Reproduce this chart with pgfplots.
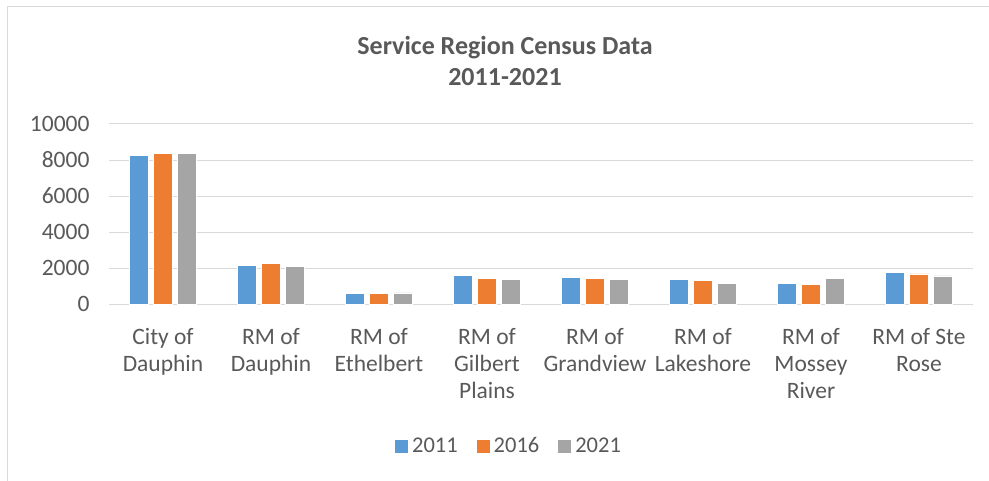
\documentclass[border=0pt]{standalone}
\usepackage{pgfplots}
\pgfplotsset{compat=1.18}
\usepackage{fontspec}
\setmainfont{Carlito}
\definecolor{cblue}{HTML}{5B9BD5}
\definecolor{corange}{HTML}{ED7D31}
\definecolor{cgray}{HTML}{A5A5A5}
\definecolor{ctext}{HTML}{595959}
\definecolor{cgrid}{HTML}{D9D9D9}
\begin{document}
\begin{tikzpicture}
\useasboundingbox (-109bp,-177bp) rectangle (880bp,304bp);
\draw[cgrid, line width=1bp] (-101bp,-200bp) -- (-101bp,297bp) -- (900bp,297bp);
\begin{axis}[
  at={(0,0)}, anchor=south west,
  scale only axis, width=864bp, height=180bp,
  xmin=-0.5, xmax=7.5, ymin=0, ymax=10000,
  ytick={0,2000,4000,6000,8000,10000},
  scaled y ticks=false,
  xtick={0,...,7},
  xticklabels={{City of\\Dauphin},{RM of\\Dauphin},{RM of\\Ethelbert},{RM of\\Gilbert\\Plains},{RM of\\Grandview},{RM of\\Lakeshore},{RM of\\Mossey\\River},{RM of Ste\\Rose}},
  xticklabel style={align=center, font=\fontsize{23.5bp}{27bp}\selectfont, text=ctext, anchor=north, yshift=-21bp},
  yticklabel style={font=\fontsize{23.5bp}{27bp}\selectfont, text=ctext, xshift=-16bp},
  /pgf/number format/assume math mode=true,
  /pgf/number format/1000 sep={},
  ymajorgrids, grid style={cgrid, line width=1bp},
  axis line style={draw=none},
  axis x line*=bottom,
  x axis line style={cgrid, line width=1bp},
  major tick length=0pt,
  ybar=5bp, bar width=19bp,
  legend columns=3,
  legend style={draw=none, fill=none, at={(0.463,-0.789)}, anchor=center, font=\fontsize{22.5bp}{27bp}\selectfont, text=ctext,
    /tikz/every odd column/.append style={column sep=2bp},
    /tikz/every even column/.append style={column sep=17bp}},
  legend image code/.code={\fill[#1, draw=none] (0bp,-6.5bp) rectangle (13bp,6.5bp);},
]
\addplot[fill=cblue, draw=white, line width=0.6bp] coordinates {(0,8234) (1,2156) (2,595) (3,1599) (4,1487) (5,1357) (6,1134) (7,1766)};
\addplot[fill=corange, draw=white, line width=0.6bp] coordinates {(0,8364) (1,2268) (2,576) (3,1431) (4,1431) (5,1320) (6,1097) (7,1673)};
\addplot[fill=cgray, draw=white, line width=0.6bp] coordinates {(0,8364) (1,2100) (2,613) (3,1375) (4,1375) (5,1134) (6,1413) (7,1561)};
\legend{2011,2016,2021}
\end{axis}
\node[font=\fontsize{26bp}{31bp}\selectfont\bfseries, text=ctext, align=center] at (396bp,243bp) {Service Region Census Data\\2011-2021};
\end{tikzpicture}
\end{document}
